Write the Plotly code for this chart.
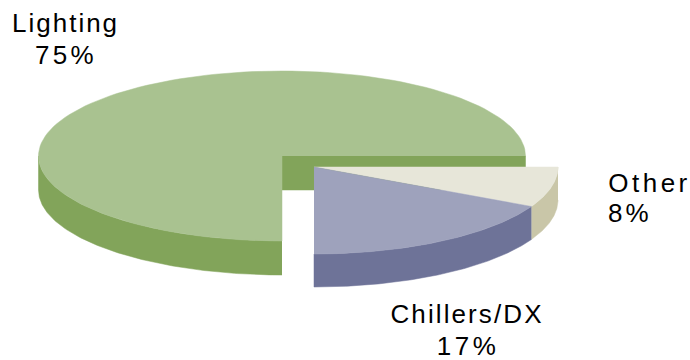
import json
import numpy as np
import plotly.graph_objects as go

categories = ["Lighting", "Chillers/DX", "Other"]
values = [75.0, 17.5, 7.5]          # share of the pie
percent_labels = ["75%", "17%", "8%"]

TOP = {"Lighting": "#A9C290", "Chillers/DX": "#9EA2BC", "Other": "#E7E6D9"}
SIDE = {"Lighting": "#82A45A", "Chillers/DX": "#6E7398", "Other": "#C9C6A8"}

# Projection of the pie onto the 690x360 pixel plane
MAIN = dict(cx=282, cy=156, rx=243.5, ry=85, depth=34)
OUT = dict(cx=314, cy=167, rx=244, ry=87, depth=33)


def arc(g, a0, a1, dy=0):
    t = np.radians(np.linspace(a0, a1, 121))
    return g["cx"] + g["rx"] * np.cos(t), g["cy"] + g["ry"] * np.sin(t) + dy


def poly(fig, x, y, color):
    fig.add_trace(go.Scatter(
        x=list(x), y=list(y), mode="lines", fill="toself", fillcolor=color,
        line=dict(color=color, width=0.5), hoverinfo="skip", showlegend=False))


def side(fig, g, a0, a1, color):
    x0, y0 = arc(g, a0, a1)
    x1, y1 = arc(g, a1, a0, g["depth"])
    poly(fig, np.r_[x0, x1], np.r_[y0, y1], color)


def deg(v):
    return 360 * v / sum(values)


fig = go.Figure()

# Lighting: starts at the bottom of the ellipse and runs clockwise round to the right
a_light = deg(values[0])
start = 90
end = start + a_light
side(fig, MAIN, start, 180, SIDE["Lighting"])
xw, yw = arc(MAIN, end, end)
poly(fig,
     [MAIN["cx"], xw[0], xw[0], MAIN["cx"]],
     [MAIN["cy"], yw[0], yw[0] + MAIN["depth"], MAIN["cy"] + MAIN["depth"]],
     SIDE["Lighting"])
xt, yt = arc(MAIN, start, end)
poly(fig, np.r_[MAIN["cx"], xt], np.r_[MAIN["cy"], yt], TOP["Lighting"])

# Exploded slices: Other from the right edge, Chillers/DX from there to the bottom
a_other = deg(values[2])
a_chill = deg(values[1])
side(fig, OUT, 0, a_other, SIDE["Other"])
side(fig, OUT, a_other, a_other + a_chill, SIDE["Chillers/DX"])
xo, yo = arc(OUT, 0, a_other)
poly(fig, np.r_[OUT["cx"], xo], np.r_[OUT["cy"], yo], TOP["Other"])
xc, yc = arc(OUT, a_other, a_other + a_chill)
poly(fig, np.r_[OUT["cx"], xc], np.r_[OUT["cy"], yc], TOP["Chillers/DX"])

# x, y, anchor, letter spacing for each label line
name_pos = [(65, 23, "center", 2.0), (467, 314, "center", 2.1), (615, 183, "left", 3.5)]
pct_pos = [(66, 55, "center", 3.3), (468, 346, "center", 3.5), (609, 213, "left", 3.0)]
annotations = []
spacing = []
for text, (x, y, anchor, s) in zip(categories + percent_labels, name_pos + pct_pos):
    annotations.append(dict(
        x=x, y=y, xref="x", yref="y", text=text, showarrow=False,
        xanchor=anchor, yanchor="middle",
        font=dict(family="Liberation Sans", size=26, color="#000000")))
    spacing.append(s)

fig.update_layout(
    width=690, height=360, margin=dict(l=0, r=0, t=0, b=0),
    paper_bgcolor="white", plot_bgcolor="white", showlegend=False,
    annotations=annotations,
    xaxis=dict(range=[0, 690], visible=False, fixedrange=True),
    yaxis=dict(range=[360, 0], visible=False, fixedrange=True),
)
fig.write_html(
    "out.html", config={"displayModeBar": False},
    post_script="var s=" + json.dumps(spacing) + ";"
                "document.querySelectorAll('.annotation-text').forEach(function(t,i){t.style.letterSpacing=s[i]+'px';});"
                "document.body.style.margin='0';")
